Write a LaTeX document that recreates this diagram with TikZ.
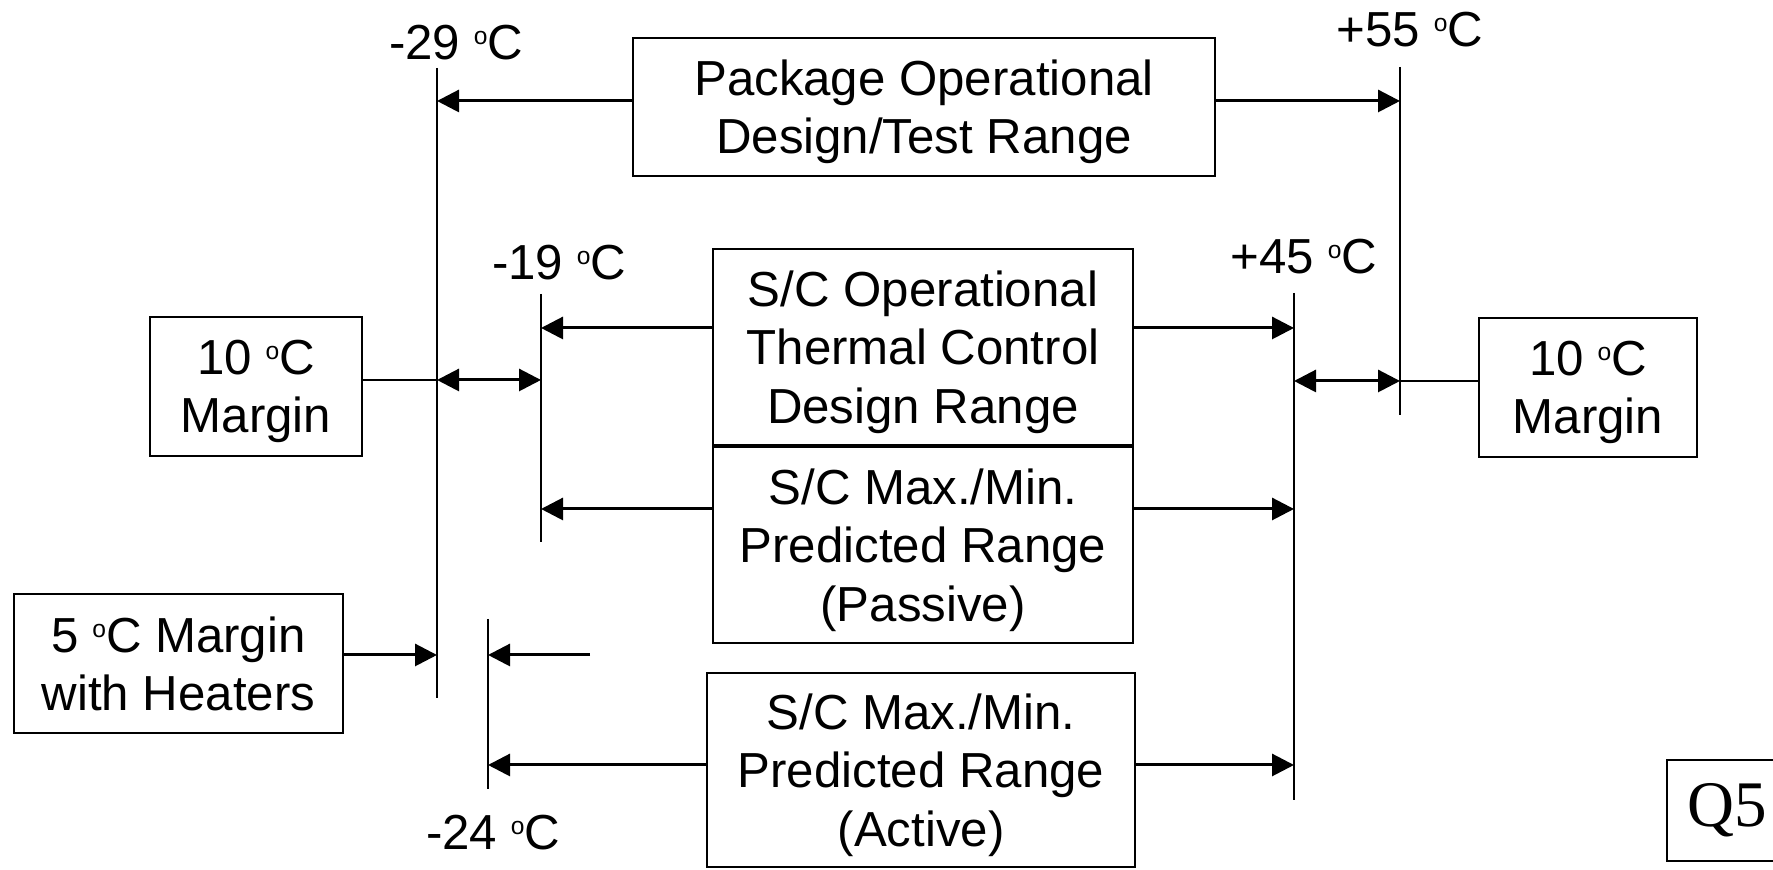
\documentclass[tikz,border=0pt]{standalone}
\usepackage{fontspec}
\setmainfont{Liberation Sans}
\newfontfamily\qfont{Liberation Serif}
\usetikzlibrary{arrows.meta,calc}
\newcommand{\dgC}{\raisebox{4.3pt}{\fontsize{7}{7}\selectfont o}C}

\begin{document}
\begin{tikzpicture}[
  box/.style={draw, line width=0.8pt, align=center, inner sep=0pt, text depth=0pt, font=\fontsize{14}{16.6}\selectfont},
  tall/.style={text depth=-0.8mm},
  lbl/.style={inner sep=0pt, font=\fontsize{14}{16.6}\selectfont},
  tick/.style={line width=0.8pt},
  arr/.style={line width=0.85pt, -{Triangle[length=2.2mm,width=2.2mm]}},
  dbl/.style={line width=0.85pt, {Triangle[length=2.2mm,width=2.2mm]}-{Triangle[length=2.2mm,width=2.2mm]}}
]
\useasboundingbox (0,0) rectangle (17.73,8.70);

% boxes
\node[box, minimum width=5.82cm, minimum height=1.38cm] (pkg) at (9.24,7.63) {Package Operational\\Design/Test Range};
\node[box, tall, minimum width=4.20cm, minimum height=1.96cm] (op) at (9.23,5.23) {S/C Operational\\Thermal Control\\Design Range};
\node[box, tall, minimum width=4.20cm, minimum height=1.96cm] (pas) at (9.23,3.25) {S/C Max./Min.\\Predicted Range\\(Passive)};
\node[box, tall, minimum width=4.28cm, minimum height=1.94cm] (act) at (9.21,1.00) {S/C Max./Min.\\Predicted Range\\(Active)};
\node[box, minimum width=2.12cm, minimum height=1.39cm] (lm) at (2.56,4.835) {10 \dgC\\Margin};
\node[box, minimum width=2.18cm, minimum height=1.39cm] (rm) at (15.88,4.825) {10 \dgC\\Margin};
\node[box, minimum width=3.29cm, minimum height=1.39cm] (heat) at (1.785,2.065) {5 \dgC{} Margin\\with Heaters};
\node[draw, line width=0.8pt, inner sep=0pt, minimum width=1.20cm, minimum height=1.01cm, font=\qfont\fontsize{18.5}{20}\selectfont] (q5) at (17.27,0.595) {Q5};

% temperature limits
\coordinate (l29a) at (4.37,8.02);  \coordinate (l29b) at (4.37,1.72);
\coordinate (l19a) at (5.41,5.76);  \coordinate (l19b) at (5.41,3.28);
\coordinate (l24a) at (4.88,2.51);  \coordinate (l24b) at (4.88,0.81);
\coordinate (l45a) at (12.94,5.77); \coordinate (l45b) at (12.94,0.70);
\coordinate (l55a) at (14.00,8.03); \coordinate (l55b) at (14.00,4.55);
\draw[tick] (l29a) -- (l29b);
\draw[tick] (l19a) -- (l19b);
\draw[tick] (l24a) -- (l24b);
\draw[tick] (l45a) -- (l45b);
\draw[tick] (l55a) -- (l55b);

\node[lbl] (t29) at (4.56,8.27) {-29 \dgC};
\node[lbl] (t55) at (14.10,8.40) {+55 \dgC};
\node[lbl] (t19) at (5.59,6.07) {-19 \dgC};
\node[lbl] (t45) at (13.04,6.13) {+45 \dgC};
\node[lbl] (t24) at (4.93,0.37) {-24 \dgC};

% arrows
\coordinate (pkgL) at ([yshift=0.6mm]pkg.west);
\coordinate (pkgR) at ([yshift=0.6mm]pkg.east);
\coordinate (opL) at ([yshift=1.9mm]op.west);
\coordinate (opR) at ([yshift=1.9mm]op.east);
\coordinate (pasL) at ([yshift=3.6mm]pas.west);
\coordinate (pasR) at ([yshift=3.6mm]pas.east);
\coordinate (actL) at ([yshift=0.5mm]act.west);
\coordinate (actR) at ([yshift=0.5mm]act.east);
\coordinate (lmR) at ([yshift=0.65mm]lm.east);
\coordinate (rmL) at ([yshift=0.65mm]rm.west);
\coordinate (heatR) at ([yshift=0.85mm]heat.east);
\coordinate (stub) at (5.90,2.15);

\draw[arr] (pkgL) -- (pkgL -| l29a);
\draw[arr] (pkgR) -- (pkgR -| l55a);
\draw[arr] (opL) -- (opL -| l19a);
\draw[arr] (opR) -- (opR -| l45a);
\draw[arr] (pasL) -- (pasL -| l19a);
\draw[arr] (pasR) -- (pasR -| l45a);
\draw[arr] (actL) -- (actL -| l24a);
\draw[arr] (actR) -- (actR -| l45a);
\draw[arr] (heatR) -- (heatR -| l29a);
\draw[arr] (stub) -- (stub -| l24a);

\draw[tick] (lmR) -- (lmR -| l29a);
\draw[dbl] (lmR -| l29a) -- (lmR -| l19a);
\draw[tick] (rmL) -- (rmL -| l55a);
\draw[dbl] (rmL -| l45a) -- (rmL -| l55a);
\end{tikzpicture}
\end{document}
